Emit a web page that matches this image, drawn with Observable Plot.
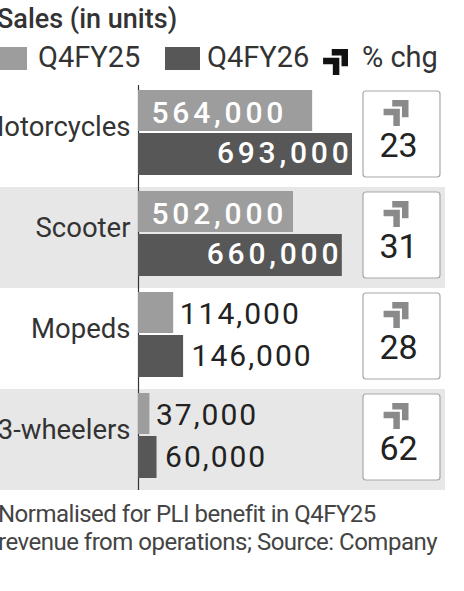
<!DOCTYPE html>
<html><head><meta charset="utf-8">
<script src="https://cdn.jsdelivr.net/npm/d3@7"></script>
<script src="https://cdn.jsdelivr.net/npm/@observablehq/plot@0.6"></script>
<style>
body{margin:0;background:#fff;width:464px;height:591px;overflow:hidden;font-family:Roboto,sans-serif;color:#333;position:relative}
#title{position:absolute;left:-3px;top:4px;font-size:27px;font-weight:500;line-height:30px;color:#333;white-space:nowrap}
.sw{position:absolute;top:47px;width:35px;height:23px}
.lg{position:absolute;top:43px;font-size:29px;line-height:28px;color:#333;white-space:nowrap}
#chart{position:absolute;left:0;top:80px}
#chart g[fill="white"] text{letter-spacing:3.8px}
#chart g[fill="#222"][font-size="30"] text{letter-spacing:2px}
#note{position:absolute;left:-2px;top:500px;font-size:24px;line-height:28px;letter-spacing:-0.5px;color:#444;white-space:nowrap}
</style></head>
<body>
<div id="title">Sales (in units)</div>
<div id="legend"></div>
<div id="chart"></div>
<div id="note">Normalised for PLI benefit in Q4FY25<br>revenue from operations; Source: Company</div>
<script>
const categories = ["Motorcycles", "Scooter", "Mopeds", "3-wheelers"];
const q4fy25 = [564000, 502000, 114000, 37000];
const q4fy26 = [693000, 660000, 146000, 60000];
const pctChg = [23, 31, 28, 62];
const shaded = ["Scooter", "3-wheelers"];
const seriesNames = ["Q4FY25", "Q4FY26"];
const seriesColors = ["#9d9d9d", "#575757"];

const rows = categories.map((c, i) => ({category: c, v25: q4fy25[i], v26: q4fy26[i], pct: pctChg[i]}));
const fmt = d3.format(",");
const inside = d => d > 300000;

// double up-right arrow icon as a custom symbol
const arrowSymbol = {
  draw(ctx, size) {
    const k = Math.sqrt(size / Math.PI) / 12;
    const poly = (pts) => {
      ctx.moveTo(pts[0][0] * k, pts[0][1] * k);
      for (let i = 1; i < pts.length; i++) ctx.lineTo(pts[i][0] * k, pts[i][1] * k);
      ctx.closePath();
    };
    poly([[-3,-12],[12,-12],[12,4],[6,4],[6,-6],[-3,-6]]);
    poly([[-11,-4],[4,-4],[4,12],[-2,12],[-2,2],[-11,2]]);
  }
};

// legend (HTML)
const legend = document.getElementById("legend");
legend.innerHTML = `
  <div class="sw" style="left:-8px;background:${seriesColors[0]}"></div>
  <div class="lg" style="left:38px">${seriesNames[0]}</div>
  <div class="sw" style="left:165px;background:${seriesColors[1]}"></div>
  <div class="lg" style="left:207px">${seriesNames[1]}</div>
  <svg style="position:absolute;left:321px;top:47px" width="28" height="30" viewBox="-14 -15 28 30">
    <path fill="#111" d="${(() => { const p = d3.path(); arrowSymbol.draw(p, Math.PI * 13 * 13); return p.toString(); })()}"></path>
  </svg>
  <div class="lg" style="left:362px">% chg</div>`;

const chart = Plot.plot({
  width: 464,
  height: 420,
  marginTop: 5,
  marginBottom: 10,
  marginLeft: 138,
  marginRight: 112,
  x: {domain: [0, d3.max(q4fy26)], axis: null},
  y: {domain: categories, axis: null, padding: 0},
  style: {fontFamily: "Roboto, sans-serif", background: "transparent"},
  marks: [
    Plot.cell(shaded, {y: d => d, fill: "#e7e7e7", insetLeft: -138, insetRight: -93}),
    Plot.ruleX([0], {stroke: "#333", strokeWidth: 1.2}),
    Plot.barX(rows, {x: "v25", y: "category", fill: seriesColors[0], insetTop: 4, insetBottom: 56}),
    Plot.barX(rows, {x: "v26", y: "category", fill: seriesColors[1], insetTop: 47, insetBottom: 12}),
    // category labels
    Plot.text(categories, {y: d => d, frameAnchor: "left", dx: -8, dy: -10, textAnchor: "end", fontSize: 27.5, fill: "#333"}),
    // inside labels
    Plot.text(rows.filter(d => inside(d.v25)), {x: 0, y: "category", text: d => fmt(d.v25), dx: 13, dy: -24, textAnchor: "start", fontSize: 30, fontWeight: 500, fill: "white"}),
    Plot.text(rows.filter(d => inside(d.v26)), {x: "v26", y: "category", text: d => fmt(d.v26), dx: 0, dy: 16, textAnchor: "end", fontSize: 30, fontWeight: 500, fill: "white"}),
    // outside labels
    Plot.text(rows.filter(d => !inside(d.v25)), {x: "v25", y: "category", text: d => fmt(d.v25), dx: 6, dy: -25, textAnchor: "start", fontSize: 30, fill: "#222"}),
    Plot.text(rows.filter(d => !inside(d.v26)), {x: "v26", y: "category", text: d => fmt(d.v26), dx: 8, dy: 17, textAnchor: "start", fontSize: 30, fill: "#222"}),
    // % change boxes
    Plot.cell(rows, {y: "category", fill: "white", stroke: "#a8a8a8", strokeWidth: 1.2, rx: 3, insetLeft: 225, insetRight: -88, insetTop: 5, insetBottom: 10}),
    Plot.dot(rows, {y: "category", frameAnchor: "right", dx: 43, dy: -24, r: 13, symbol: arrowSymbol, fill: "#8a8a8a", stroke: "none"}),
    Plot.text(rows, {y: "category", text: d => String(d.pct), frameAnchor: "right", textAnchor: "middle", dx: 46, dy: 9, fontSize: 34, fill: "#222"})
  ]
});
document.getElementById("chart").appendChild(chart);
</script>
</body></html>
